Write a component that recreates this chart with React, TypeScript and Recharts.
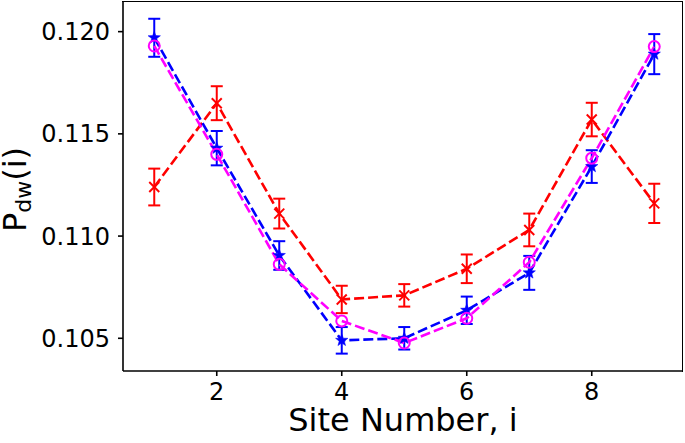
import { LineChart, Line, XAxis, YAxis, ErrorBar, Label } from 'recharts';

const sites = [1, 2, 3, 4, 5, 6, 7, 8, 9];

const redVals = [0.1124, 0.1165, 0.1111, 0.1069, 0.1071, 0.1084, 0.1103, 0.1157, 0.1116];
const redErr = [0.0009, 0.00083, 0.00073, 0.00067, 0.00055, 0.0007, 0.0008, 0.00082, 0.00096];

const blueVals = [0.1197, 0.1143, 0.10905, 0.1049, 0.1050, 0.10637, 0.1082, 0.1134, 0.1189];
const blueErr = [0.00093, 0.00084, 0.0007, 0.00065, 0.00055, 0.00067, 0.00083, 0.0008, 0.00098];

const magentaVals = [0.1193, 0.1140, 0.10862, 0.10585, 0.10477, 0.10598, 0.10872, 0.11381, 0.11927];

const xTicks = [2, 4, 6, 8];
const yTicks = [0.105, 0.11, 0.115, 0.12];

const data = sites.map((s, i) => ({
  site: s,
  red: redVals[i],
  redErr: redErr[i],
  blue: blueVals[i],
  blueErr: blueErr[i],
  magenta: magentaVals[i],
}));

const FONT = 'DejaVu Sans, sans-serif';
const RED = '#ff0000';
const BLUE = '#0000ff';
const MAGENTA = '#ff00ff';

const CrossDot = (p: any) => {
  const { cx, cy, index } = p;
  const r = 5;
  return (
    <g key={`x-${index}`}>
      <line x1={cx - r} y1={cy - r} x2={cx + r} y2={cy + r} stroke={RED} strokeWidth={2} />
      <line x1={cx - r} y1={cy + r} x2={cx + r} y2={cy - r} stroke={RED} strokeWidth={2} />
    </g>
  );
};

const StarDot = (p: any) => {
  const { cx, cy, index } = p;
  const pts: string[] = [];
  for (let k = 0; k < 10; k++) {
    const rad = k % 2 === 0 ? 6.5 : 2.7;
    const a = -Math.PI / 2 + (k * Math.PI) / 5;
    pts.push(`${cx + rad * Math.cos(a)},${cy + rad * Math.sin(a)}`);
  }
  return <polygon key={`s-${index}`} points={pts.join(' ')} fill={BLUE} stroke={BLUE} strokeWidth={0.5} />;
};

const CircleDot = (p: any) => {
  const { cx, cy, index } = p;
  return <circle key={`o-${index}`} cx={cx} cy={cy} r={5.5} fill="none" stroke={MAGENTA} strokeWidth={2} />;
};

const YTitle = (props: any) => {
  const vb = props.viewBox || { y: 0, height: 0 };
  const cy = vb.y + vb.height / 2 + 3;
  const x = 26;
  return (
    <text x={x} y={cy} transform={`rotate(-90, ${x}, ${cy})`} textAnchor="middle" fontSize={32} fontFamily={FONT} fill="#000">
      P
      <tspan fontSize={22} dy={5}>dw</tspan>
      <tspan dy={-5}>(i)</tspan>
    </text>
  );
};

const XTitle = (props: any) => {
  const vb = props.viewBox || { x: 0, width: 0 };
  return (
    <text x={vb.x + vb.width / 2} y={431} textAnchor="middle" fontSize={32} fontFamily={FONT} fill="#000">
      Site Number, i
    </text>
  );
};

export default function App() {
  return (
    <div style={{ position: 'absolute', left: 0, top: 0, width: 685, height: 443, background: '#fff' }}>
      <LineChart width={685} height={443} data={data} margin={{ top: 2, right: 2, bottom: 0, left: 0 }}>
        <XAxis
          dataKey="site"
          type="number"
          domain={[0.5, 9.46]}
          ticks={xTicks}
          allowDataOverflow
          height={72}
          tickSize={5}
          tickMargin={7}
          stroke="#000"
          strokeWidth={1.6}
          tick={{ fill: '#000', fontSize: 24, fontFamily: FONT }}
        >
          <Label content={<XTitle />} />
        </XAxis>
        <YAxis
          type="number"
          domain={[0.1034, 0.12145]}
          ticks={yTicks}
          allowDataOverflow
          width={123}
          tickSize={5}
          tickMargin={8}
          stroke="#000"
          strokeWidth={1.6}
          tickFormatter={(v: number) => v.toFixed(3)}
          tick={{ fill: '#000', fontSize: 24, fontFamily: FONT }}
        >
          <Label content={<YTitle />} />
        </YAxis>
        <Line
          dataKey="red"
          stroke={RED}
          strokeWidth={2.6}
          strokeDasharray="10 4"
          dot={CrossDot}
          activeDot={false}
          isAnimationActive={false}
        >
          <ErrorBar dataKey="redErr" direction="y" width={6} strokeWidth={2} stroke={RED} />
        </Line>
        <Line
          dataKey="blue"
          stroke={BLUE}
          strokeWidth={2.6}
          strokeDasharray="10 4"
          dot={StarDot}
          activeDot={false}
          isAnimationActive={false}
        >
          <ErrorBar dataKey="blueErr" direction="y" width={6} strokeWidth={2} stroke={BLUE} />
        </Line>
        <Line
          dataKey="magenta"
          stroke={MAGENTA}
          strokeWidth={2.6}
          strokeDasharray="10 4"
          dot={CircleDot}
          activeDot={false}
          isAnimationActive={false}
        />
      </LineChart>
      {/* top and right spines */}
      <div
        style={{
          position: 'absolute',
          left: 122,
          top: 1,
          width: 560,
          height: 370,
          borderTop: '1.6px solid #000',
          borderRight: '1.6px solid #000',
          pointerEvents: 'none',
        }}
      />
    </div>
  );
}
